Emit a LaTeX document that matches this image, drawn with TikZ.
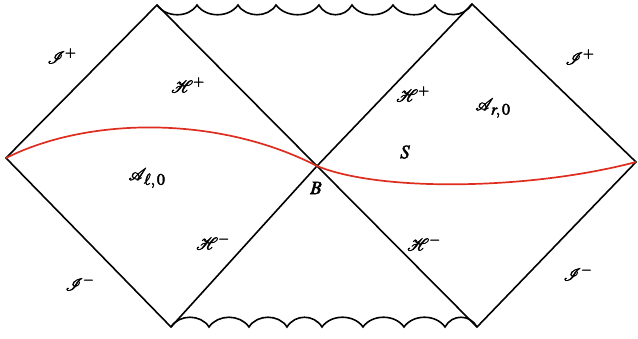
\documentclass[tikz,border=0pt]{standalone}
\usepackage{mathptmx}
\usepackage{mathrsfs}
\newcommand{\heavytext}[1]{\special{pdf:literal direct 2 Tr 0.45 w}#1\special{pdf:literal direct 0 Tr}}
\newcommand{\subsz}[1]{\mbox{\fontsize{16}{16}\selectfont$#1$}}
\begin{document}
\begin{tikzpicture}[x=1pt,y=-1pt,
  edge/.style={line width=1.6pt,black,line join=miter},
  wave/.style={line width=1.6pt,black},
  slice/.style={line width=1.7pt,color={rgb,255:red,222;green,45;blue,30}},
  lab/.style={inner sep=0pt,font=\fontsize{19}{22}\selectfont}]
\useasboundingbox (0,0) rectangle (638,339);
\coordinate (L) at (6,158);
\coordinate (TL) at (157,5);
\coordinate (TR) at (472,4);
\coordinate (R) at (636,162);
\coordinate (BR) at (477,327);
\coordinate (BL) at (171,327);
\coordinate (B) at (317,166);
% edges
\draw[edge] (L) -- (TL) -- (B) -- (BR) -- (R) -- (TR) -- (B) -- (BL) -- cycle;
% top singularity (scallops hanging down)
\draw[wave] (TL) .. controls (166,18) and (189,18) .. (197,5)
  .. controls (206,18) and (229,18) .. (238,5)
  .. controls (246,18) and (268,18) .. (276,5)
  .. controls (286,18) and (309,18) .. (319,5)
  .. controls (326,18) and (345,18) .. (352,5)
  .. controls (361,18) and (384,18) .. (393,5)
  .. controls (402,18) and (426,18) .. (435,5)
  .. controls (443,18) and (464,18) .. (TR);
% bottom singularity (arches up)
\draw[wave] (BL) .. controls (179,314) and (201,314) .. (209,327)
  .. controls (218,314) and (240,314) .. (249,327)
  .. controls (257,314) and (279,314) .. (287,327)
  .. controls (295,314) and (314,314) .. (322,327)
  .. controls (331,314) and (354,314) .. (363,327)
  .. controls (372,314) and (395,314) .. (404,327)
  .. controls (413,314) and (436,314) .. (445,327)
  .. controls (452,314) and (470,314) .. (BR);
% red slice
\draw[slice] (L) .. controls (90,116) and (220,116) .. (B)
  .. controls (380,192) and (530,190) .. (R);
% labels
\node[lab] (scriplus) at (62,56) {\heavytext{$\mathscr{I}^{+}$}};
\node[lab] (scrirplus) at (580,57) {\heavytext{$\mathscr{I}^{+}$}};
\node[lab] (scriminus) at (80,283) {\heavytext{$\mathscr{I}^{-}$}};
\node[lab] (scrirminus) at (578,273) {\heavytext{$\mathscr{I}^{-}$}};
\node[lab] (hlp) at (188,85) {\heavytext{$\mathscr{H}^{+}$}};
\node[lab] (hrp) at (413,94) {\heavytext{$\mathscr{H}^{+}$}};
\node[lab] (hlm) at (213,242) {\heavytext{$\mathscr{H}^{-}$}};
\node[lab] (hrm) at (424,243) {\heavytext{$\mathscr{H}^{-}$}};
\node[lab] (ar) at (493,108) {\heavytext{$\mathscr{A}_{\,\subsz{r,0}}$}};
\node[lab] (al) at (147,178) {\heavytext{$\mathscr{A}_{\,\subsz{\ell,0}}$}};
\node[lab] (s) at (405,152) {\heavytext{$S$}};
\node[lab] (b) at (316,188) {\heavytext{$B$}};
\end{tikzpicture}
\end{document}
